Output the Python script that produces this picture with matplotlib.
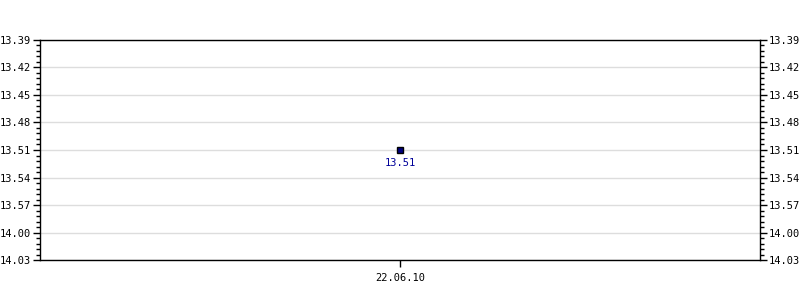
import matplotlib
matplotlib.use("Agg")
import matplotlib.pyplot as plt
import matplotlib.ticker as mtick

# data
dates = ["22.06.10"]
times = ["13.51"]          # hh.mm
y_ticks = ["13.39", "13.42", "13.45", "13.48", "13.51", "13.54", "13.57", "14.00", "14.03"]


def to_min(s: str) -> float:
    h, m = s.split(".")
    return int(h) * 60 + int(m)


def fmt_min(v, pos=None) -> str:
    v = int(round(v))
    return f"{v // 60}.{v % 60:02d}"


plt.rcParams.update({
    "font.family": ["DejaVu Sans Mono"],
    "font.size": 7.5,
})

fig = plt.figure(figsize=(8, 3), dpi=100)
ax = fig.add_axes([0.05, 0.1333, 0.9, 0.7334])

xs = list(range(len(dates)))
ys = [to_min(t) for t in times]
tick_vals = [to_min(t) for t in y_ticks]

ax.plot(xs, ys, linestyle="none", marker="s", markersize=4.5,
        markerfacecolor="#000080", markeredgecolor="black", markeredgewidth=1, zorder=3)
for x, y, t in zip(xs, ys, times):
    ax.annotate(t, xy=(x, y), xytext=(0, -9.5), textcoords="offset points",
                ha="center", va="center", color="#000099", fontsize=7.5)

ax.set_xlim(-1, len(dates))
ax.set_xticks(xs)
ax.set_xticklabels(dates)

ax.set_ylim(tick_vals[-1], tick_vals[0])
ax.set_yticks(tick_vals)
ax.yaxis.set_major_formatter(mtick.FuncFormatter(fmt_min))
ax.yaxis.set_minor_locator(mtick.AutoMinorLocator(5))
ax.grid(True, axis="y", color="#dddddd", linewidth=1)
ax.set_axisbelow(True)

ax.tick_params(axis="y", which="major", length=5, width=1, color="black",
               left=True, right=True, labelleft=True, labelright=True, pad=1.5)
ax.tick_params(axis="y", which="minor", length=3, width=1, color="black",
               left=True, right=True)
ax.tick_params(axis="x", which="major", length=5, width=1, pad=4)

for s in ax.spines.values():
    s.set_color("black")
    s.set_linewidth(1)

fig.savefig("out.png", dpi=100)
